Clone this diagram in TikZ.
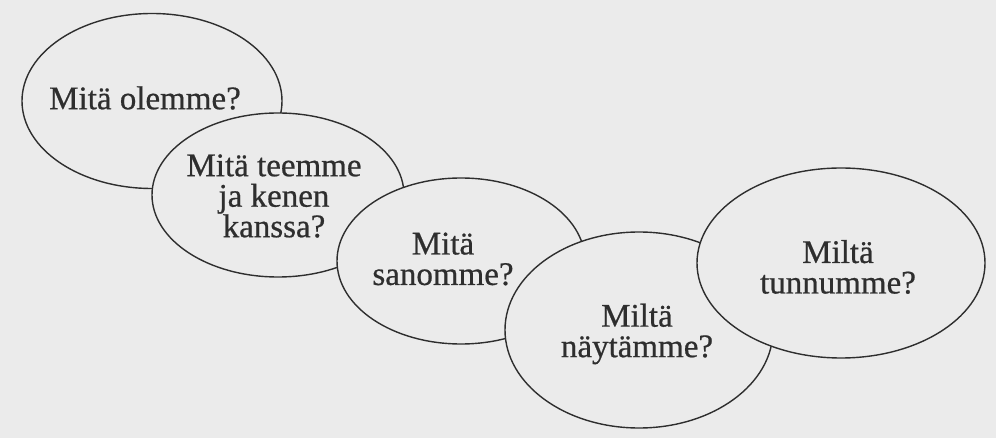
\documentclass[tikz,border=0pt]{standalone}
\usepackage{fontspec}
\setmainfont[FakeBold=0.6]{Liberation Serif}
\usetikzlibrary{shapes.geometric}
\definecolor{paper}{HTML}{EBEBEB}
\definecolor{ink}{HTML}{2E2E2E}
\begin{document}
\begin{tikzpicture}[x=1pt,y=-1pt,
  bubble/.style={ellipse,draw=ink,line width=1.4pt,fill=paper,inner sep=0pt},
  words/.style={text=ink,align=center,font=\fontsize{33}{30.5}\selectfont,inner sep=0pt}]
\fill[paper] (0,0) rectangle (996,438);
\useasboundingbox (0,0) rectangle (996,438);
\node[bubble,minimum width=260pt,minimum height=175pt] (e1) at (152,101) {};
\node[words] (t1) at (145,98) {Mitä olemme?};
\node[bubble,minimum width=252pt,minimum height=164pt] (e2) at (278,195) {};
\node[words] (t2) at (274,196) {Mitä teemme\\ja kenen\\kanssa?};
\node[bubble,minimum width=248pt,minimum height=166pt] (e3) at (461,261) {};
\node[words] (t3) at (443,259) {Mitä\\sanomme?};
\node[bubble,minimum width=268pt,minimum height=196pt] (e4) at (639,330) {};
\node[words] (t4) at (637,334) {Miltä\\näytämme?};
\node[bubble,minimum width=288pt,minimum height=190pt] (e5) at (841,263) {};
\node[words] (t5) at (838,267) {Miltä\\tunnumme?};
\end{tikzpicture}
\end{document}
